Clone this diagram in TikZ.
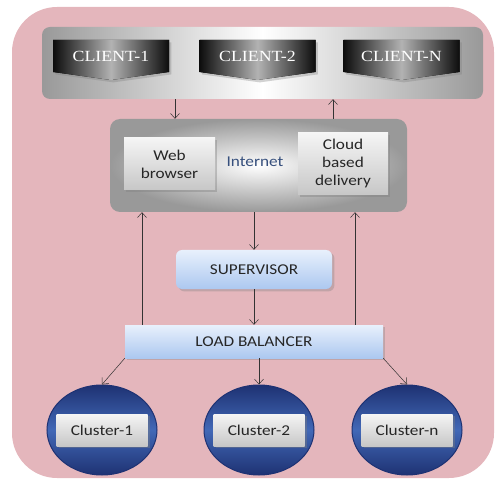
\documentclass[tikz,border=0pt]{standalone}
\usepackage{fontspec}
\setmainfont{Carlito}[FakeStretch=1.15]
\newfontfamily\clientfont{Liberation Serif}[FakeStretch=1.15]
\usepackage{tikz}
\usetikzlibrary{arrows.meta,shapes.geometric,shadows,positioning}

\definecolor{backpink}{RGB}{228,182,188}
\definecolor{nettext}{RGB}{55,80,125}
\definecolor{paleblue}{RGB}{232,240,252}
\definecolor{midblue}{RGB}{172,200,240}
\definecolor{clusterin}{RGB}{66,104,182}
\definecolor{clusterout}{RGB}{30,50,115}

\tikzset{
 textsize/.style={font=\fontsize{15}{18}\selectfont},
 graybar/.style={rounded corners=8pt, left color=black!40, right color=black!40, middle color=white, inner sep=0pt},
 clientfill/.style={left color=black!95, right color=black!95, middle color=black!30, drop shadow={opacity=.35}},
 clienttext/.style={text=white, font=\clientfont\fontsize{15.5}{16}\selectfont},
 netbox/.style={rounded corners=10pt, inner color=white, outer color=black!40},
 greybox/.style={top color=black!4, bottom color=black!22, drop shadow={opacity=.4}, align=center, textsize, text=black!85},
 bluebox/.style={top color=paleblue, bottom color=midblue, drop shadow={opacity=.35}, textsize, text=black!85},
 cluster/.style={ellipse, top color=clusterout, bottom color=clusterout, middle color=clusterin, draw=clusterout, line width=1pt, minimum width=110pt, minimum height=90pt},
 clusterlabel/.style={greybox, minimum width=91pt, minimum height=32pt},
 link/.style={->, draw=black!80, line width=0.5pt}
}

\begin{document}
\begin{tikzpicture}[x=1pt,y=-1pt,>={Straight Barb[length=5pt,width=9pt]}]
 \useasboundingbox (0,0) rectangle (498,481);
 \fill[backpink, rounded corners=45pt] (12,7) rectangle (494,478);

 % clients
 \node[graybar, minimum width=441pt, minimum height=72pt] (clients) at (262.5,63) {};
 \foreach \x/\n/\t in {111/c1/CLIENT-1, 257.5/c2/CLIENT-2, 401.5/cn/CLIENT-N} {
  \fill[clientfill] (\x-58,40) -- (\x+58,40) -- (\x+58,72) -- (\x,80) -- (\x-58,72) -- cycle;
  \node[clienttext] (\n) at (\x,56) {\t};
 }

 % internet
 \node[netbox, minimum width=297pt, minimum height=93pt] (internet) at (258.5,165.5) {};
 \node[textsize, text=nettext] (net) at (255,162) {Internet};
 \node[greybox, minimum width=91pt, minimum height=52pt] (web) at (169.5,164) {Web\\browser};
 \node[greybox, minimum width=90pt, minimum height=62pt] (cloud) at (343,164) {Cloud\\based\\delivery};

 \node[bluebox, rounded corners=6pt, minimum width=156pt, minimum height=39pt] (super) at (254,269.5) {SUPERVISOR};
 \node[bluebox, minimum width=258pt, minimum height=33pt] (lb) at (254,341.5) {LOAD BALANCER};

 % clusters
 \foreach \x/\n/\t in {102/cl1/Cluster-1, 259/cl2/Cluster-2, 407/cln/Cluster-n} {
  \node[cluster] (\n) at (\x,430) {};
  \node[clusterlabel] (\n-box) at (\n) {\t};
 }

 \draw[link] ([xshift=-87.5pt]clients.south) -- ([xshift=-87.5pt]clients.south |- internet.north);
 \draw[link] ([xshift=70.5pt]clients.south |- internet.north) -- ([xshift=70.5pt]clients.south);
 \draw[link] (internet.south -| super.north) -- (super.north);
 \draw[link] (super) -- (lb);
 \draw[link] ([xshift=-112pt]lb.north) -- ([xshift=-112pt]lb.north |- internet.south);
 \draw[link] ([xshift=101pt]lb.north) -- ([xshift=101pt]lb.north |- internet.south);
 \draw[link] (lb.south west) -- (cl1.north);
 \draw[link] (lb.south -| cl2.north) -- (cl2.north);
 \draw[link] (lb.south east) -- (cln.north);
\end{tikzpicture}
\end{document}
